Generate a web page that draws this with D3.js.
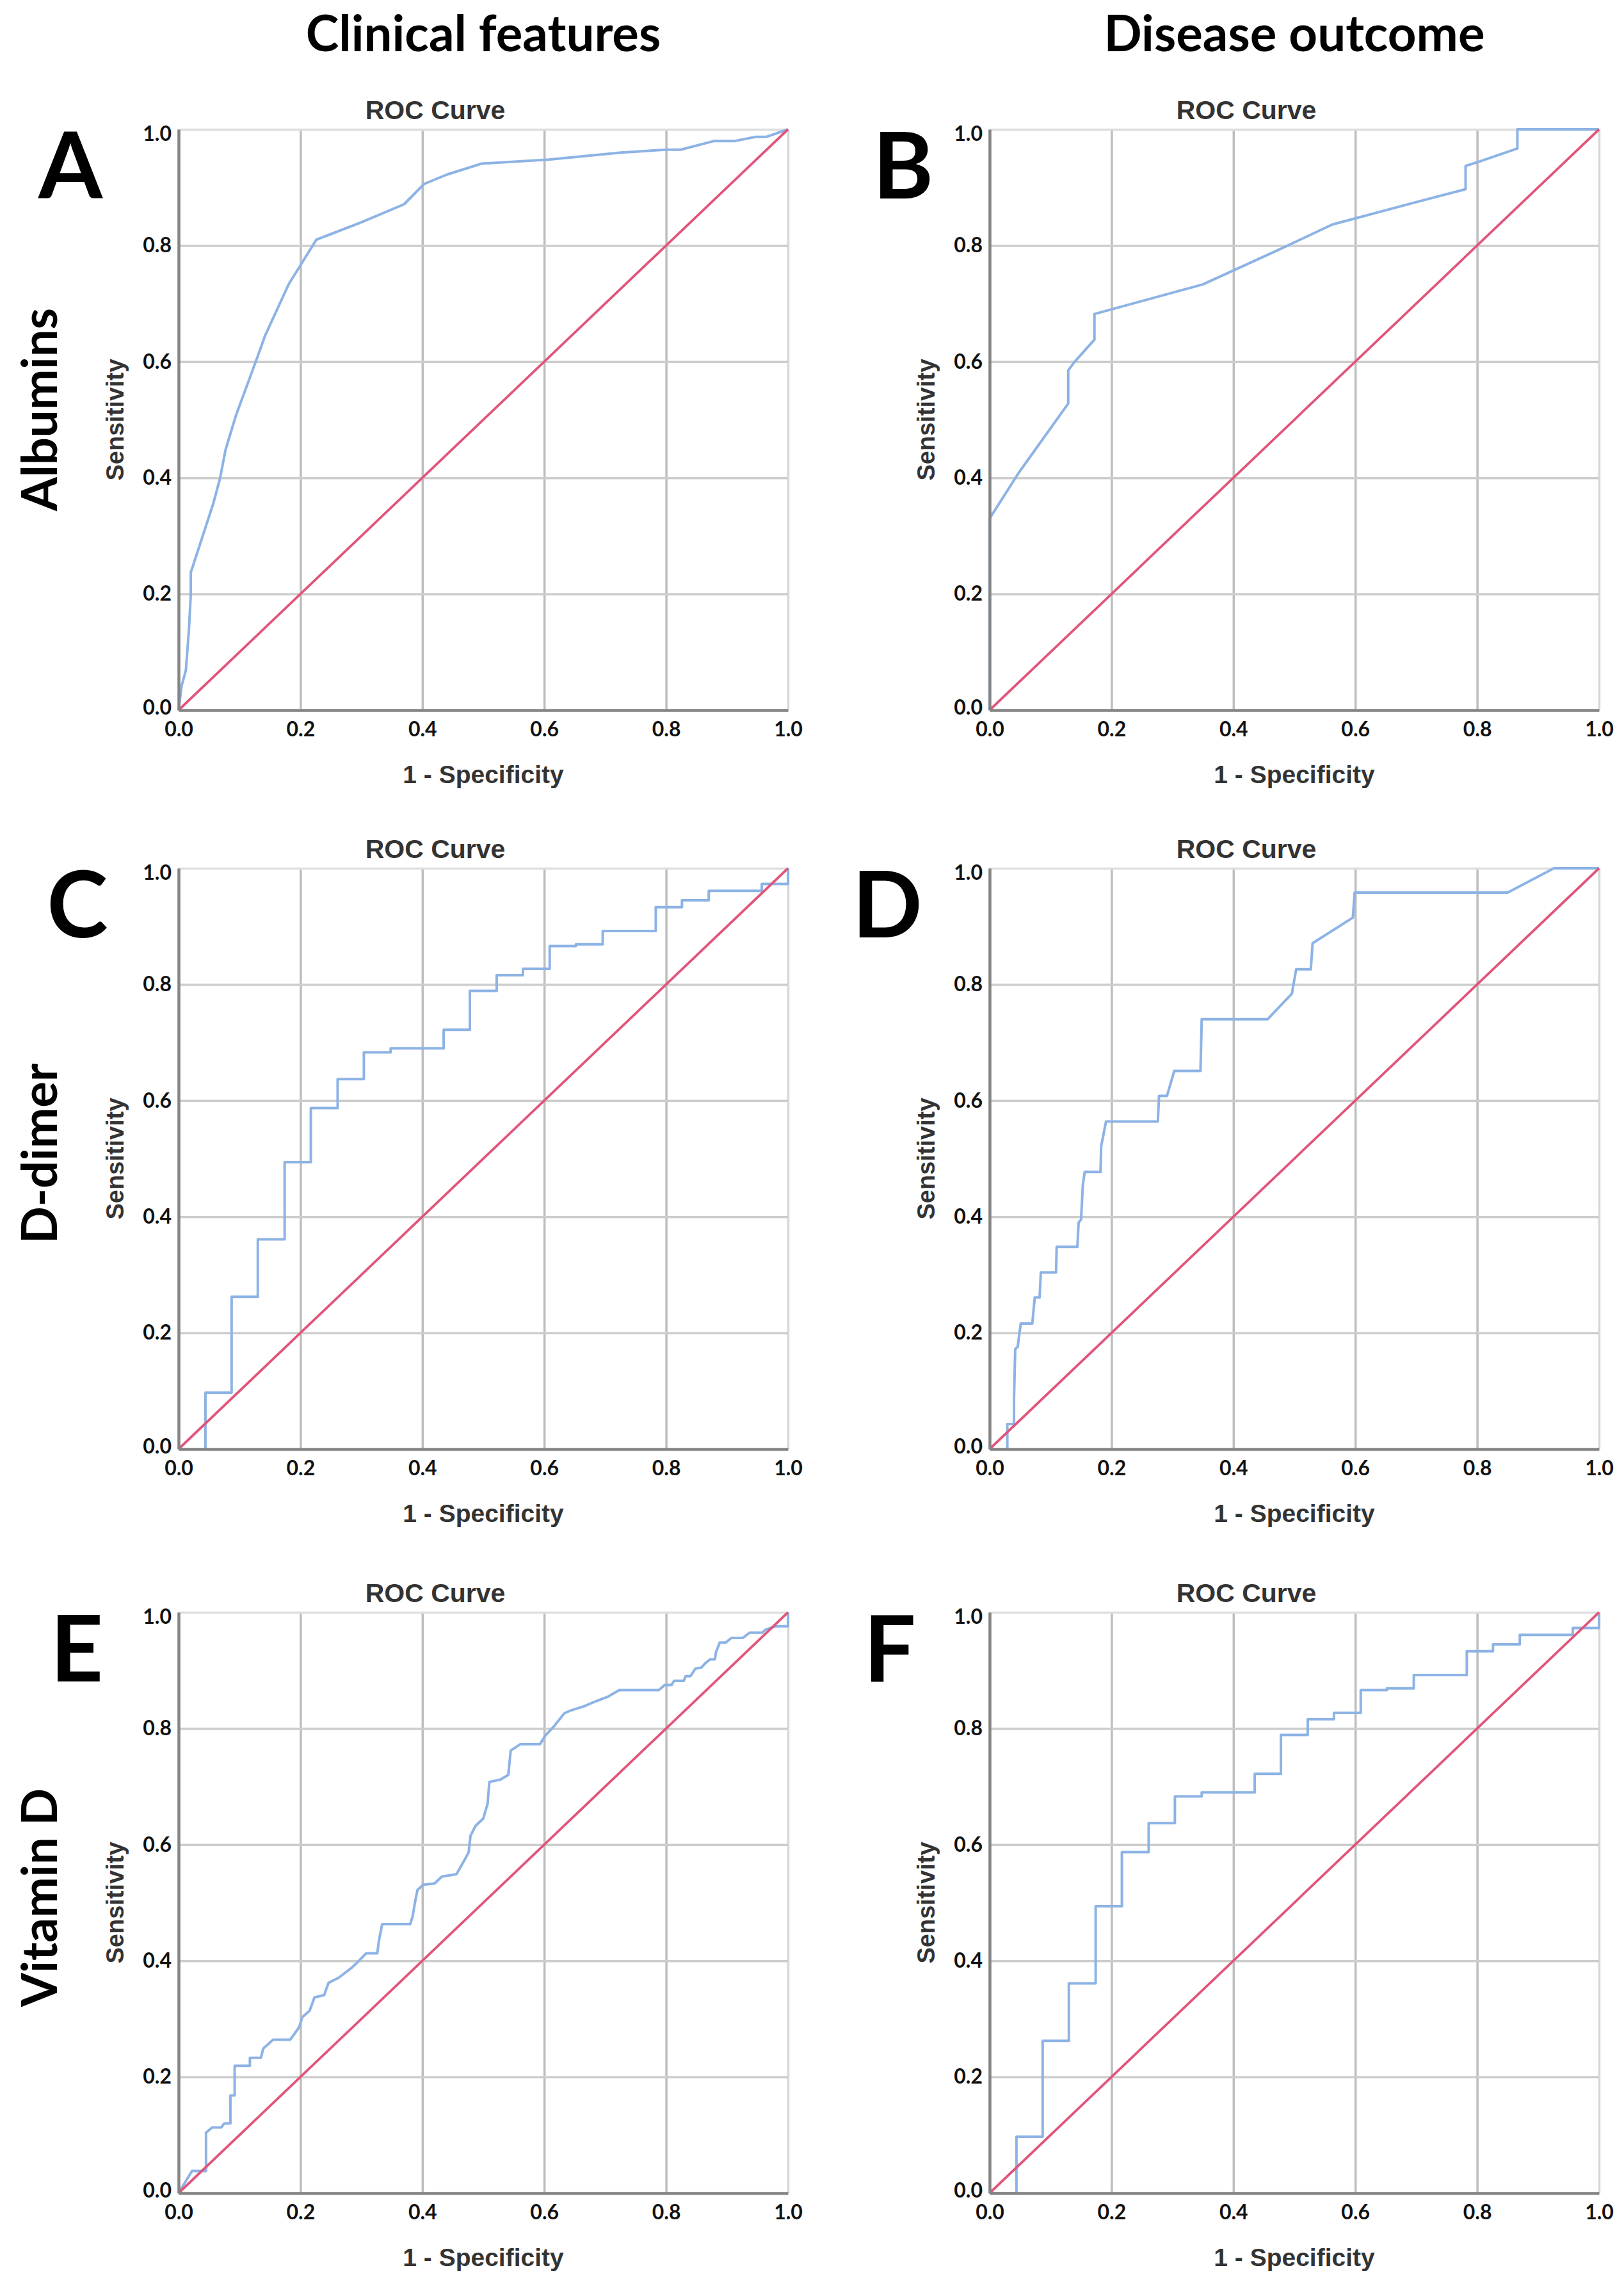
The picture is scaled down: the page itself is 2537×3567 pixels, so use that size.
<!DOCTYPE html>
<html>
<head>
<meta charset="utf-8">
<style>
body { margin: 0; background: #fff; }
.tick-label { font-family: Lato, "Open Sans", sans-serif; font-weight: bold; font-size: 32px; fill: #111; }
.spss { font-family: "Liberation Sans", Arial, sans-serif; font-weight: bold; fill: #333; }
.big { font-family: Lato, "Open Sans", sans-serif; font-weight: bold; fill: #000; }
</style>
</head>
<body>
<svg id="fig" width="2537" height="3567"></svg>
<script src="https://cdn.jsdelivr.net/npm/d3@7"></script>
<script>
// values: [1 - specificity, sensitivity]
var albuminsClinical = [[0,0],[0.005,0.042],[0.012,0.069],[0.017,0.139],[0.020,0.199],[0.020,0.237],
  [0.057,0.356],[0.068,0.399],[0.077,0.448],[0.094,0.507],[0.128,0.604],[0.142,0.645],[0.181,0.734],
  [0.200,0.766],[0.226,0.810],[0.30,0.84],[0.37,0.871],[0.403,0.906],[0.44,0.922],[0.497,0.941],
  [0.607,0.948],[0.726,0.96],[0.80,0.965],[0.824,0.965],[0.879,0.98],[0.913,0.98],[0.947,0.987],
  [0.964,0.987],[1,1]];

var albuminsOutcome = [[0,0],[0,0.33],[0.048,0.409],[0.129,0.528],[0.129,0.585],[0.138,0.598],[0.172,0.638],
  [0.172,0.682],[0.35,0.733],[0.473,0.792],[0.562,0.836],[0.694,0.873],[0.781,0.897],[0.781,0.937],
  [0.805,0.945],[0.866,0.967],[0.866,1],[1,1]];

// step curves (value holds until the next x)
var ddimerClinical = [[0,0],[0.044,0.097],[0.087,0.262],[0.130,0.361],[0.174,0.494],[0.217,0.587],[0.261,0.637],
  [0.304,0.683],[0.348,0.690],[0.435,0.722],[0.478,0.789],[0.522,0.816],[0.565,0.827],[0.609,0.866],
  [0.652,0.869],[0.696,0.892],[0.783,0.933],[0.826,0.945],[0.870,0.961],[0.957,0.973],[1,1]];

var ddimerOutcome = [[0,0],[0.029,0],[0.029,0.043],[0.040,0.043],[0.040,0.087],[0.042,0.172],[0.046,0.176],
  [0.051,0.216],[0.070,0.216],[0.074,0.261],[0.082,0.261],[0.084,0.304],[0.109,0.304],[0.110,0.348],
  [0.144,0.348],[0.146,0.390],[0.150,0.395],[0.153,0.455],[0.156,0.477],[0.182,0.477],[0.183,0.521],
  [0.191,0.564],[0.276,0.564],[0.278,0.608],[0.291,0.608],[0.303,0.651],[0.346,0.651],[0.348,0.740],
  [0.456,0.740],[0.496,0.784],[0.503,0.826],[0.527,0.826],[0.530,0.871],[0.596,0.915],[0.599,0.958],
  [0.850,0.958],[0.926,1],[1,1]];

var vitaminDClinical = [[0,0],[0.022,0.038],[0.045,0.038],[0.045,0.104],[0.055,0.113],[0.07,0.113],[0.075,0.12],
  [0.085,0.12],[0.085,0.168],[0.092,0.168],[0.092,0.219],[0.117,0.219],[0.117,0.233],[0.135,0.233],
  [0.139,0.249],[0.155,0.264],[0.183,0.264],[0.190,0.274],[0.198,0.286],[0.203,0.303],[0.215,0.314],
  [0.223,0.337],[0.239,0.341],[0.246,0.362],[0.263,0.371],[0.284,0.388],[0.296,0.4],[0.308,0.413],
  [0.326,0.413],[0.329,0.436],[0.334,0.463],[0.380,0.463],[0.384,0.476],[0.388,0.501],[0.392,0.522],
  [0.402,0.531],[0.42,0.533],[0.432,0.545],[0.456,0.549],[0.464,0.564],[0.471,0.577],[0.476,0.587],
  [0.479,0.615],[0.487,0.632],[0.500,0.645],[0.507,0.670],[0.510,0.708],[0.528,0.712],[0.541,0.720],
  [0.545,0.762],[0.561,0.773],[0.593,0.773],[0.602,0.788],[0.617,0.805],[0.633,0.826],[0.641,0.830],
  [0.665,0.838],[0.685,0.847],[0.705,0.855],[0.723,0.866],[0.788,0.866],[0.798,0.875],[0.809,0.875],
  [0.813,0.882],[0.829,0.882],[0.832,0.890],[0.840,0.890],[0.848,0.903],[0.858,0.905],[0.864,0.912],
  [0.872,0.919],[0.880,0.919],[0.882,0.932],[0.888,0.948],[0.898,0.948],[0.907,0.956],[0.926,0.956],
  [0.937,0.965],[0.958,0.965],[0.963,0.970],[0.98,0.976],[1,0.976],[1,1]];

var vitaminDOutcome = [[0,0],[0.044,0.097],[0.087,0.262],[0.130,0.361],[0.174,0.494],[0.217,0.587],[0.261,0.637],
  [0.304,0.683],[0.348,0.690],[0.435,0.722],[0.478,0.789],[0.522,0.816],[0.565,0.827],[0.609,0.866],
  [0.652,0.869],[0.696,0.892],[0.783,0.933],[0.826,0.945],[0.870,0.961],[0.957,0.973],[1,1]];

var reference = [[0,0],[1,1]];
var tickValues = [0, 0.2, 0.4, 0.6, 0.8, 1.0];
var columnTitles = ["Clinical features", "Disease outcome"];
var rowTitles = ["Albumins", "D-dimer", "Vitamin D"];

var colLeft = [279, 1546], rowTop = [202, 1356, 2518];
var pw = 952, ph = 907;

var panels = [
  {letter: "A", data: albuminsClinical, col: 0, row: 0, step: false, lx: 110},
  {letter: "B", data: albuminsOutcome,  col: 1, row: 0, step: false, lx: 1411},
  {letter: "C", data: ddimerClinical,   col: 0, row: 1, step: true,  lx: 121},
  {letter: "D", data: ddimerOutcome,    col: 1, row: 1, step: false, lx: 1386},
  {letter: "E", data: vitaminDClinical, col: 0, row: 2, step: false, lx: 120},
  {letter: "F", data: vitaminDOutcome,  col: 1, row: 2, step: true,  lx: 1390}
];

var svg = d3.select("#fig");
var fmt = d3.format(".1f");

columnTitles.forEach(function(t, i) {
  svg.append("text").attr("class", "big")
    .attr("x", colLeft[i] + pw / 2).attr("y", 80)
    .attr("text-anchor", "middle").attr("font-size", 78)
    .text(t);
});

rowTitles.forEach(function(t, i) {
  svg.append("text").attr("class", "big")
    .attr("transform", "translate(89," + (rowTop[i] + ph / 2 - (i === 0 ? 16 : 8)) + ") rotate(-90)")
    .attr("text-anchor", "middle").attr("font-size", 76)
    .text(t);
});

panels.forEach(function(p) {
  var left = colLeft[p.col], top = rowTop[p.row];
  var x = d3.scaleLinear().domain([0, 1]).range([0, pw]);
  var y = d3.scaleLinear().domain([0, 1]).range([ph, 0]);
  var g = svg.append("g").attr("transform", "translate(" + left + "," + top + ")");

  // panel letter
  svg.append("text").attr("class", "big")
    .attr("x", p.lx).attr("y", top + 108)
    .attr("text-anchor", "middle").attr("font-size", 144)
    .text(p.letter);

  // grid
  var gx = g.append("g").attr("transform", "translate(0," + ph + ")")
    .call(d3.axisBottom(x).tickValues(tickValues).tickSize(-ph).tickFormat(""));
  gx.select(".domain").remove();
  gx.selectAll("line").attr("stroke", function(d) { return d === 1 ? "#d8d8d8" : "#bdbdbd"; })
    .attr("stroke-width", 3.5);

  var gy = g.append("g")
    .call(d3.axisLeft(y).tickValues(tickValues).tickSize(-pw).tickFormat(""));
  gy.select(".domain").remove();
  gy.selectAll("line").attr("stroke", function(d) { return d === 1 ? "#dedede" : "#cdcdcd"; })
    .attr("stroke-width", 3.5);

  // curves
  var line = d3.line().x(function(d) { return x(d[0]); }).y(function(d) { return y(d[1]); })
    .curve(p.step ? d3.curveStepAfter : d3.curveLinear);

  g.append("path").datum(p.data)
    .attr("fill", "none").attr("stroke", "#8db3e5").attr("stroke-width", 4)
    .attr("stroke-linejoin", "round")
    .attr("d", line);

  g.append("path").datum(reference)
    .attr("fill", "none").attr("stroke", "#e1557a").attr("stroke-width", 3.8)
    .attr("d", line.curve(d3.curveLinear));

  // axes
  var ax = g.append("g").attr("transform", "translate(0," + ph + ")")
    .call(d3.axisBottom(x).tickValues(tickValues).tickSize(0).tickPadding(18).tickFormat(fmt));
  ax.select(".domain").attr("stroke", "#858585").attr("stroke-width", 4.5);
  ax.selectAll("text").attr("class", "tick-label").attr("font-size", null).attr("font-family", null).attr("fill", null);

  var ay = g.append("g")
    .call(d3.axisLeft(y).tickValues(tickValues).tickSize(0).tickPadding(11).tickFormat(fmt));
  ay.select(".domain").attr("stroke", "#858585").attr("stroke-width", 4.5);
  ay.selectAll("text").attr("class", "tick-label").attr("font-size", null).attr("font-family", null).attr("fill", null)
    .attr("dy", function(d) { return d === 1 ? "0.55em" : (d === 0 ? "0.2em" : "0.32em"); });

  // SPSS titles
  g.append("text").attr("class", "spss")
    .attr("x", 401).attr("y", -16)
    .attr("text-anchor", "middle").attr("font-size", 41)
    .text("ROC Curve");

  g.append("text").attr("class", "spss")
    .attr("x", pw / 2).attr("y", ph + 114)
    .attr("text-anchor", "middle").attr("font-size", 39)
    .text("1 - Specificity");

  g.append("text").attr("class", "spss")
    .attr("transform", "translate(-86," + (ph / 2) + ") rotate(-90)")
    .attr("text-anchor", "middle").attr("font-size", 38)
    .text("Sensitivity");
});
</script>
</body>
</html>
